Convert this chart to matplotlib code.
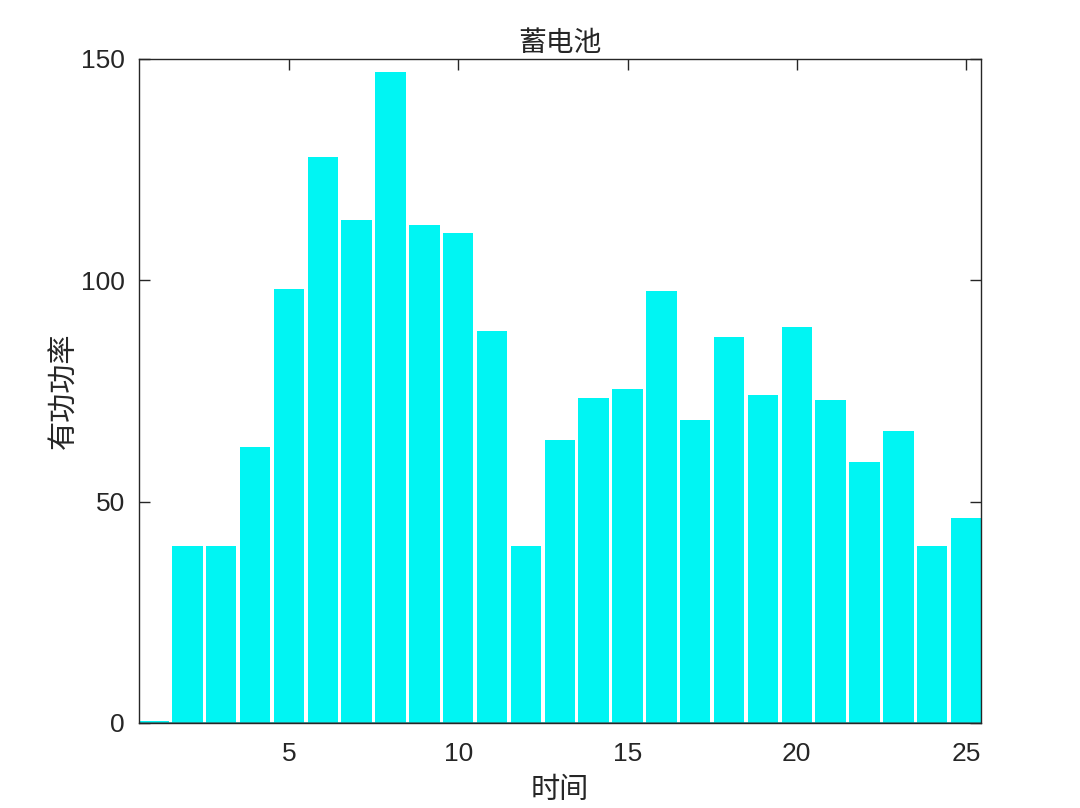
import matplotlib
matplotlib.use("Agg")
import matplotlib.pyplot as plt

hours = list(range(1, 26))
power = [0.4, 40, 40, 62.3, 98.0, 127.9, 113.6, 147.1, 112.5, 110.7, 88.5, 40,
         63.9, 73.4, 75.4, 97.6, 68.4, 87.2, 74.1, 89.5, 73.0, 59.0, 66.0, 40, 46.3]
xticks = [5, 10, 15, 20, 25]
yticks = [0, 50, 100, 150]

plt.rcParams['font.family'] = ['Liberation Sans', 'Noto Sans CJK SC', 'DejaVu Sans']

fig = plt.figure(figsize=(10.8, 8.08), dpi=100)
ax = fig.add_axes([0.1287, 0.1052, 0.9083 - 0.1287, 0.927 - 0.1052])
ax.bar(hours, power, width=0.9, color='#00F5F3', edgecolor='none', zorder=2)
ax.axhline(0, color='#2a8a8a', lw=1.2, zorder=3)
ax.set_xlim(0.57, 25.44)
ax.set_ylim(0, 150)
ax.set_xticks(xticks)
ax.set_yticks(yticks)
for s in ax.spines.values():
    s.set_color('#262626')
    s.set_linewidth(1.0)
    s.set_zorder(4)
ax.tick_params(direction='in', length=8, width=1, colors='#262626', labelsize=19,
               top=True, right=True)
ax.tick_params(axis='x', pad=14)
ax.tick_params(axis='y', pad=10)
cjk = ['Noto Sans CJK SC', 'DejaVu Sans']
ax.set_title('蓄电池', fontsize=20, family=cjk, color='#262626', pad=6)
ax.set_xlabel('时间', fontsize=21, family=cjk, color='#262626', labelpad=6)
ax.set_ylabel('有功功率', fontsize=21, family=cjk, color='#262626', labelpad=1)
fig.savefig('out.png', dpi=100, facecolor='white')
